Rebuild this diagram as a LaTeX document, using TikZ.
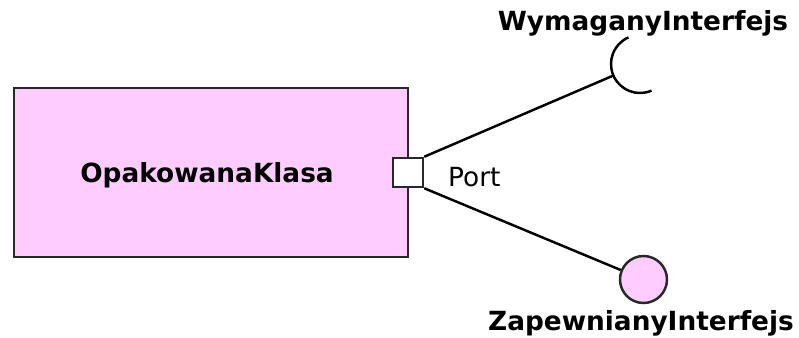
\documentclass[tikz,border=0pt]{standalone}
\usepackage{fontspec}
\setmainfont{DejaVu Sans}
\usepackage{tikz}
\usetikzlibrary{positioning,calc}
\definecolor{klasaPink}{RGB}{255,204,255}
\definecolor{ramka}{RGB}{40,40,40}

\begin{document}
\begin{tikzpicture}[font=\fontsize{15}{18}\selectfont, line width=1.4pt,
    klasa/.style={draw=ramka, fill=klasaPink, minimum width=7.88cm, minimum height=3.38cm, font=\fontsize{15}{18}\selectfont\bfseries},
    portbox/.style={draw=ramka, fill=white, minimum width=0.6cm, minimum height=0.58cm, inner sep=0pt},
    kulka/.style={draw=ramka, fill=klasaPink, circle, minimum size=0.94cm, inner sep=0pt},
    iface/.style={font=\fontsize{15}{18}\selectfont\bfseries, anchor=base, inner sep=0pt}]
  \useasboundingbox (0,0) rectangle (15.98,6.74);
  \def\rGn{0.58}
  \node[klasa] (klasa) at (4.22,3.29) {};
  \node[font=\fontsize{15}{18}\selectfont\bfseries, anchor=base, inner sep=0pt] (klasalbl) at (4.14,3.1) {OpakowanaKlasa};
  \node[portbox] (port) at (8.16,3.29) {};
  \node[anchor=base west, inner sep=0pt] (portlbl) at (8.94,3.02) {Port};
  % wymagany interfejs (gniazdo)
  \coordinate (gniazdo) at (12.8,5.46);
  \coordinate (wejscie) at ($(gniazdo)+(203.4:\rGn)$);
  \draw (port.north east) -- (wejscie);
  \draw (wejscie) arc[start angle=203.4, end angle=293.4, radius=\rGn]
        (wejscie) arc[start angle=203.4, end angle=113.4, radius=\rGn];
  \node[iface] (wymagany) at (12.86,6.14) {WymaganyInterfejs};
  % zapewniany interfejs (kulka)
  \node[kulka] (kulka) at (12.87,1.15) {};
  \draw (port.south east) -- (kulka);
  \node[iface] (zapewniany) at (12.82,0.14) {ZapewnianyInterfejs};
\end{tikzpicture}
\end{document}
